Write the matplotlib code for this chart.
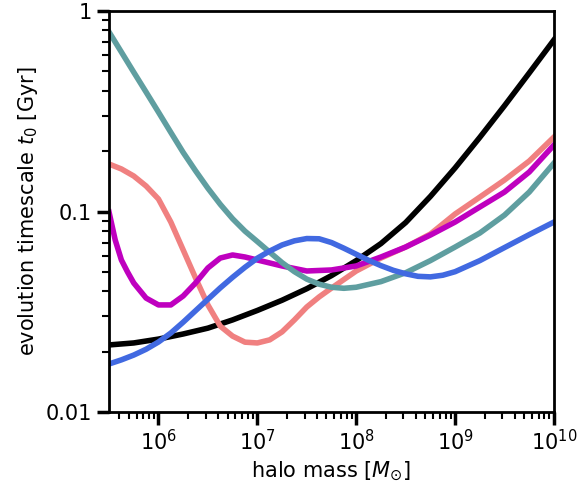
import matplotlib
matplotlib.use("Agg")
import matplotlib.pyplot as plt
import numpy as np

# log10(halo mass / Msun) and t0 [Gyr], one pair per curve
logm_black = [5.5, 5.75, 6.0, 6.25, 6.5, 6.75, 7.0, 7.25, 7.5, 7.75,
              8.0, 8.25, 8.5, 8.75, 9.0, 9.25, 9.5, 9.75, 10.0]
t_black = [0.0216, 0.0221, 0.0231, 0.0245, 0.0262, 0.0288, 0.0321, 0.0361, 0.0412, 0.0479,
           0.0569, 0.0692, 0.0881, 0.1189, 0.165, 0.2344, 0.3373, 0.491, 0.718]

logm_teal = [5.5, 5.625, 5.75, 5.875, 6.0, 6.125, 6.25, 6.375, 6.5, 6.625,
             6.75, 6.875, 7.0, 7.125, 7.25, 7.375, 7.5, 7.625, 7.75, 7.875,
             8.0, 8.25, 8.5, 8.75, 9.0, 9.25, 9.5, 9.75, 10.0]
t_teal = [0.786, 0.624, 0.495, 0.394, 0.313, 0.248, 0.197, 0.1596, 0.1306, 0.1086,
          0.092, 0.0798, 0.0708, 0.0627, 0.0556, 0.0501, 0.046, 0.0434, 0.0419, 0.0414,
          0.0419, 0.0447, 0.0495, 0.0569, 0.0665, 0.0781, 0.096, 0.125, 0.1745]

logm_salmon = [5.5, 5.625, 5.75, 5.875, 6.0, 6.125, 6.25, 6.375, 6.5, 6.625,
               6.75, 6.875, 7.0, 7.125, 7.25, 7.375, 7.5, 7.625, 7.75, 8.0,
               8.25, 8.5, 8.75, 9.0, 9.25, 9.5, 9.75, 10.0]
t_salmon = [0.1725, 0.163, 0.1503, 0.134, 0.1154, 0.0886, 0.0643, 0.0466, 0.0342, 0.0268,
            0.0239, 0.0223, 0.0221, 0.0229, 0.0251, 0.0288, 0.0334, 0.0375, 0.0415, 0.0505,
            0.0586, 0.0665, 0.0772, 0.0972, 0.118, 0.1436, 0.1786, 0.2352]

logm_magenta = [5.5, 5.5625, 5.625, 5.6875, 5.75, 5.875, 6.0, 6.125, 6.25, 6.375,
                6.5, 6.625, 6.75, 6.875, 7.0, 7.25, 7.5, 7.75, 8.0, 8.25,
                8.5, 8.75, 9.0, 9.25, 9.5, 9.75, 10.0]
t_magenta = [0.0994, 0.0721, 0.0573, 0.0499, 0.044, 0.0370, 0.0342, 0.0342, 0.0379, 0.044,
             0.0523, 0.0586, 0.0607, 0.0593, 0.0573, 0.0535, 0.0505, 0.0511, 0.0535, 0.0593,
             0.0665, 0.0763, 0.0886, 0.1053, 0.1251, 0.1574, 0.2146]

logm_blue = [5.5, 5.625, 5.75, 5.875, 6.0, 6.125, 6.25, 6.375, 6.5, 6.625,
             6.75, 6.875, 7.0, 7.125, 7.25, 7.375, 7.5, 7.625, 7.75, 7.875,
             8.0, 8.125, 8.25, 8.375, 8.5, 8.625, 8.75, 8.875, 9.0, 9.25,
             9.5, 9.75, 10.0]
t_blue = [0.01736, 0.0182, 0.01923, 0.02056, 0.02234, 0.02477, 0.02805, 0.032, 0.0365, 0.0416,
          0.047, 0.0527, 0.0585, 0.0635, 0.0681, 0.0714, 0.0733, 0.0731, 0.070, 0.0656,
          0.0612, 0.0571, 0.0537, 0.0509, 0.0489, 0.0475, 0.0472, 0.0481, 0.0501, 0.0569,
          0.0661, 0.0767, 0.0886]

fig = plt.figure(figsize=(5.79, 4.87), dpi=100)
ax = fig.add_axes([0.1883, 0.154, 0.7685, 0.8234])

lw = 4
ax.plot(10.0 ** np.array(logm_black), t_black, color="black", lw=lw)
ax.plot(10.0 ** np.array(logm_salmon), t_salmon, color="lightcoral", lw=lw)
ax.plot(10.0 ** np.array(logm_magenta), t_magenta, color="m", lw=lw)
ax.plot(10.0 ** np.array(logm_teal), t_teal, color="cadetblue", lw=lw)
ax.plot(10.0 ** np.array(logm_blue), t_blue, color="royalblue", lw=lw)

ax.set_xscale("log")
ax.set_yscale("log")
ax.set_xlim(10 ** 5.5, 1e10)
ax.set_ylim(0.01, 1)

ax.set_yticks([0.01, 0.1, 1])
ax.set_yticklabels(["0.01", "0.1", "1"])
ax.set_xticks([1e6, 1e7, 1e8, 1e9, 1e10])

for s in ax.spines.values():
    s.set_linewidth(2)
ax.tick_params(which="major", length=9, width=2.5, labelsize=15, direction="out")
ax.tick_params(which="minor", length=5, width=1.5, direction="out")

ax.set_xlabel(r"halo mass [$M_{\odot}$]", fontsize=15)
ax.set_ylabel(r"evolution timescale $t_0$ [Gyr]", fontsize=15)

fig.savefig("out.png", dpi=100)
